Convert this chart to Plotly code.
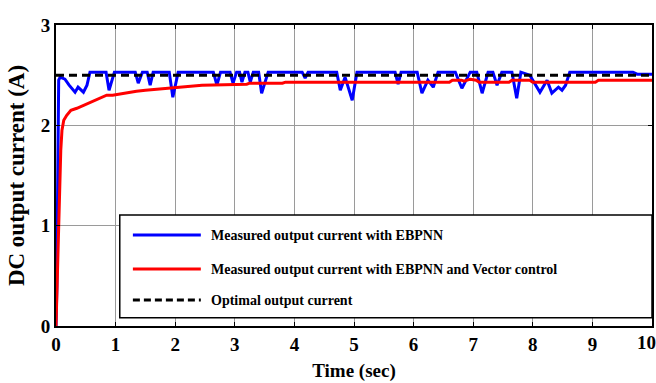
import plotly.graph_objects as go

# ---- data ----
time_ebpnn = [0, 0.015, 0.025, 0.035, 0.045, 0.07, 0.15, 0.22, 0.32, 0.37, 0.46, 0.52, 0.57,
              0.84, 0.89, 0.98, 1.33, 1.38, 1.45, 1.53, 1.58, 1.63, 1.9, 1.96, 2.05,
              2.64, 2.7, 2.76, 2.92, 2.97, 3.03, 3.08, 3.12, 3.17, 3.22, 3.26, 3.31, 3.4, 3.45, 3.56,
              4.13, 4.18, 4.23, 4.71, 4.77, 4.85, 4.97, 5.05,
              5.69, 5.74, 5.79, 6.06, 6.14, 6.24, 6.33, 6.41, 6.7, 6.81, 6.95,
              7.06, 7.15, 7.25, 7.33, 7.4, 7.48, 7.65, 7.73, 7.8, 7.95, 8.12, 8.24,
              8.32, 8.43, 8.49, 8.55, 8.62, 9.68, 9.75, 10]
cur_ebpnn = [0, 0.4, 1.2, 2.0, 2.45, 2.48, 2.46, 2.4, 2.33, 2.38, 2.33, 2.40, 2.53,
             2.53, 2.35, 2.53, 2.53, 2.42, 2.53, 2.53, 2.40, 2.53, 2.53, 2.28, 2.53,
             2.53, 2.40, 2.53, 2.53, 2.42, 2.53, 2.53, 2.43, 2.53, 2.53, 2.43, 2.53, 2.53, 2.32, 2.53,
             2.53, 2.47, 2.53, 2.53, 2.35, 2.48, 2.25, 2.53,
             2.53, 2.41, 2.53, 2.53, 2.32, 2.45, 2.38, 2.53, 2.53, 2.37, 2.53,
             2.53, 2.32, 2.53, 2.53, 2.40, 2.53, 2.53, 2.27, 2.53, 2.50, 2.33, 2.45,
             2.32, 2.38, 2.35, 2.40, 2.53, 2.53, 2.51, 2.51]

time_vector = [0, 0.02, 0.04, 0.06, 0.08, 0.1, 0.13, 0.18, 0.25, 0.35, 0.46, 0.55, 0.65, 0.75,
               0.85, 0.95, 1.05, 1.2, 1.35, 1.5, 1.7, 1.9, 2.1, 2.3, 2.45, 3.2, 3.25, 3.8, 3.85,
               6.6, 6.65, 6.8, 6.85, 6.95, 7.05, 7.1, 7.6, 7.65, 7.95, 8.0, 9.05, 9.1, 10]
cur_vector = [0, 0.45, 1.0, 1.45, 1.75, 1.95, 2.05, 2.1, 2.15, 2.17, 2.2, 2.22, 2.25, 2.28,
              2.3, 2.3, 2.31, 2.33, 2.34, 2.35, 2.36, 2.37, 2.38, 2.39, 2.4, 2.41, 2.42, 2.42, 2.43,
              2.43, 2.45, 2.45, 2.44, 2.46, 2.45, 2.43, 2.43, 2.45, 2.45, 2.43, 2.43, 2.45, 2.45]

time_opt = [0, 10]
cur_opt = [2.5, 2.5]

x_ticks = [0, 1, 2, 3, 4, 5, 6, 7, 8, 9, 10]
y_ticks = [0, 1, 2, 3]

names = ["Measured output current with EBPNN",
         "Measured output current with EBPNN and Vector control",
         "Optimal output current"]
colors = ["#0000ff", "#ff0000", "#000000"]

FONT = "Liberation Serif"

fig = go.Figure()
fig.add_trace(go.Scatter(x=time_ebpnn, y=cur_ebpnn, mode="lines", name=names[0],
                         line=dict(color=colors[0], width=3), showlegend=False))
fig.add_trace(go.Scatter(x=time_vector, y=cur_vector, mode="lines", name=names[1],
                         line=dict(color=colors[1], width=3), showlegend=False))
fig.add_trace(go.Scatter(x=time_opt, y=cur_opt, mode="lines", name=names[2],
                         line=dict(color=colors[2], width=3, dash="8px,5px"), showlegend=False))

tick_font = dict(family=FONT, size=19, color="black", weight="bold")
axis_common = dict(showline=True, linecolor="black", linewidth=2, mirror="all",
                   ticks="inside", ticklen=4, tickcolor="black", tickwidth=1,
                   showgrid=True, gridcolor="#9a9a9a", gridwidth=1, zeroline=False,
                   automargin=False, tickfont=tick_font)

# last x tick label is drawn right-aligned at its tick (as in the reference) so it stays inside
x_ticktext = [str(v) for v in x_ticks]
last_label = x_ticktext[-1]
x_ticktext[-1] = ""

fig.update_xaxes(range=[0, 10], tickvals=x_ticks, ticktext=x_ticktext,
                 title=dict(text="Time (sec)", standoff=10,
                            font=dict(family=FONT, size=19, color="black", weight="bold")),
                 **axis_common)
fig.update_yaxes(range=[0, 3], tickvals=y_ticks, ticktext=[str(v) for v in y_ticks],
                 title=dict(text="DC output current (A)", standoff=10,
                            font=dict(family=FONT, size=23, color="black", weight="bold")),
                 **axis_common)

fig.add_annotation(xref="x", yref="paper", x=x_ticks[-1], y=-0.056, text=last_label,
                   showarrow=False, xanchor="right", yanchor="middle", xshift=6,
                   font=tick_font)

# manual legend box (MATLAB style)
fig.add_shape(type="rect", xref="paper", yref="paper", x0=0.107, x1=1.0, y0=0.027, y1=0.369,
              line=dict(color="black", width=1.5), fillcolor="white", layer="above")
leg_y = [0.302, 0.189, 0.086]
dashes = ["solid", "solid", "7px,4px"]
for i in range(3):
    fig.add_shape(type="line", xref="paper", yref="paper", x0=0.129, x1=0.243,
                  y0=leg_y[i], y1=leg_y[i], line=dict(color=colors[i], width=3, dash=dashes[i]),
                  layer="above")
    fig.add_annotation(xref="paper", yref="paper", x=0.257, y=leg_y[i], text=names[i],
                       showarrow=False, xanchor="left", yanchor="middle",
                       font=dict(family=FONT, size=14, color="black", weight="bold"))

fig.update_layout(width=656, height=383, margin=dict(l=56, r=4, t=25, b=57),
                  plot_bgcolor="white", paper_bgcolor="white")

fig.write_html("out.html")
